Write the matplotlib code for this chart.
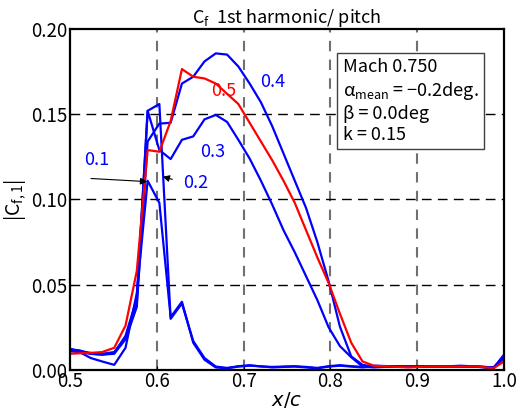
import numpy as np
import matplotlib
matplotlib.use("Agg")
import matplotlib.pyplot as plt

plt.rcParams['font.family'] = ['Noto Sans CJK JP', 'DejaVu Sans']
plt.rcParams['mathtext.default'] = 'regular'
plt.rcParams['axes.unicode_minus'] = True

# chordwise stations
x_c = [0.500, 0.511, 0.524, 0.537, 0.551, 0.564, 0.577, 0.5895, 0.603, 0.616,
       0.629, 0.642, 0.655, 0.668, 0.681, 0.694, 0.707, 0.720, 0.733, 0.746,
       0.759, 0.772, 0.785, 0.798, 0.811, 0.824, 0.837, 0.850, 0.870, 0.890,
       0.910, 0.930, 0.950, 0.970, 0.988, 1.000]

cf_01 = [0.011, 0.0105, 0.007, 0.005, 0.003, 0.013, 0.045, 0.111, 0.098, 0.031,
         0.040, 0.016, 0.006, 0.0015, 0.001, 0.002, 0.0025, 0.0022, 0.0015, 0.0018,
         0.002, 0.0015, 0.001, 0.002, 0.0025, 0.002, 0.0015, 0.002, 0.002, 0.0018,
         0.002, 0.0022, 0.002, 0.0018, 0.001, 0.008]
cf_02 = [0.0125, 0.011, 0.010, 0.0095, 0.0105, 0.019, 0.040, 0.152, 0.156, 0.030,
         0.039, 0.017, 0.007, 0.002, 0.0012, 0.0022, 0.0028, 0.002, 0.0018, 0.002,
         0.0022, 0.0018, 0.0012, 0.0022, 0.0028, 0.0022, 0.0018, 0.0025, 0.0022, 0.002,
         0.0022, 0.002, 0.0025, 0.002, 0.0012, 0.009]
cf_03 = [0.012, 0.0115, 0.0095, 0.009, 0.010, 0.020, 0.042, 0.152, 0.129, 0.1237,
         0.135, 0.137, 0.147, 0.1496, 0.1455, 0.135, 0.124, 0.111, 0.097, 0.082,
         0.069, 0.055, 0.041, 0.025, 0.014, 0.0075, 0.002, 0.0015, 0.002, 0.002,
         0.0022, 0.002, 0.002, 0.002, 0.0015, 0.007]
cf_04 = [0.0115, 0.0105, 0.0095, 0.009, 0.0095, 0.018, 0.037, 0.134, 0.1445, 0.145,
         0.168, 0.172, 0.181, 0.1857, 0.185, 0.178, 0.168, 0.157, 0.143, 0.127,
         0.111, 0.095, 0.075, 0.052, 0.0254, 0.008, 0.003, 0.002, 0.002, 0.002,
         0.002, 0.002, 0.002, 0.002, 0.0015, 0.0075]
cf_05 = [0.0095, 0.0098, 0.010, 0.0105, 0.013, 0.026, 0.058, 0.129, 0.128, 0.146,
         0.1765, 0.172, 0.171, 0.168, 0.162, 0.156, 0.145, 0.134, 0.123, 0.111,
         0.098, 0.082, 0.066, 0.051, 0.033, 0.016, 0.005, 0.0025, 0.002, 0.0015,
         0.002, 0.002, 0.002, 0.002, 0.001, 0.005]

fig = plt.figure(figsize=(5.22, 4.12), dpi=100)
ax = fig.add_axes([0.134, 0.102, 0.8315, 0.8276])

for cf in [cf_01, cf_02, cf_03, cf_04]:
    ax.plot(x_c, cf, color='#0000ff', lw=1.6)
ax.plot(x_c, cf_05, color='#ff0000', lw=1.6)

ax.set_xlim(0.5, 1.0)
ax.set_ylim(0.0, 0.2)
ax.set_xticks([0.5, 0.6, 0.7, 0.8, 0.9, 1.0])
ax.set_yticks([0.0, 0.05, 0.10, 0.15, 0.20])
ax.set_xticklabels(['0.5', '0.6', '0.7', '0.8', '0.9', '1.0'])
ax.set_yticklabels(['0.00', '0.05', '0.10', '0.15', '0.20'])
ax.tick_params(direction='in', length=3, labelsize=13.5, pad=2)
ax.tick_params(axis='x', pad=1)

# grid: grey vertical, black horizontal
for xv in [0.6, 0.7, 0.8, 0.9]:
    ax.axvline(xv, color='#707070', lw=1.5, ls=(0, (5, 4)), zorder=0)
for yv in [0.05, 0.10, 0.15]:
    ax.axhline(yv, color='black', lw=1.0, ls=(0, (7, 4.5)), zorder=0)

for sp in ax.spines.values():
    sp.set_linewidth(1.6)

ax.set_title(r'C$_{f}$  1st harmonic/ pitch', fontsize=13, pad=3)
ax.set_xlabel(r'$\mathit{x/c}$', fontsize=14, labelpad=-2)
ax.set_ylabel(r'|C$_{f,1}$|', fontsize=14, labelpad=2)

# labels
ax.text(0.531, 0.123, '0.1', color='#0000ff', fontsize=13, ha='center', va='center')
ax.annotate('', xy=(0.5922, 0.1104), xytext=(0.521, 0.1124),
            arrowprops=dict(arrowstyle='-|>', color='black', lw=0.8, mutation_scale=10))
ax.text(0.645, 0.1097, '0.2', color='#0000ff', fontsize=13, ha='center', va='center')
ax.annotate('', xy=(0.6037, 0.1138), xytext=(0.621, 0.1114),
            arrowprops=dict(arrowstyle='-|>', color='black', lw=0.8, mutation_scale=10))
ax.text(0.665, 0.128, '0.3', color='#0000ff', fontsize=13, ha='center', va='center')
ax.text(0.7335, 0.169, '0.4', color='#0000ff', fontsize=13, ha='center', va='center')
ax.text(0.6766, 0.1638, '0.5', color='#ff0000', fontsize=13, ha='center', va='center')

info = 'Mach 0.750\n' + r'$\alpha_{mean}$ = −0.2deg.' + '\n' + 'β = 0.0deg\nk = 0.15'
ax.text(0.814, 0.183, info, fontsize=13, ha='left', va='top', linespacing=1.22,
        bbox=dict(boxstyle='square,pad=0.3', fc='white', ec='#404040', lw=1.0))

fig.savefig('out.png', dpi=100)
